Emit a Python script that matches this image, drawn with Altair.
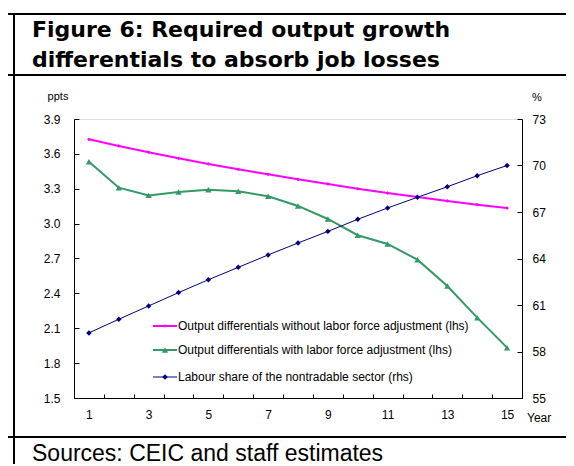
import altair as alt
import pandas as pd

years = list(range(1, 16))
s_without = [3.725, 3.668, 3.614, 3.562, 3.513, 3.467, 3.424, 3.381, 3.341, 3.300, 3.263, 3.229, 3.195, 3.163, 3.134]
s_with = [3.533, 3.309, 3.243, 3.272, 3.292, 3.278, 3.235, 3.152, 3.040, 2.900, 2.825, 2.690, 2.463, 2.191, 1.933]
labour_share = [59.2, 60.08, 60.94, 61.8, 62.63, 63.43, 64.23, 65.0, 65.75, 66.53, 67.26, 67.95, 68.63, 69.34, 70.0]
series_names = [
    "Output differentials without labor force adjustment (lhs)",
    "Output differentials with labor force adjustment (lhs)",
    "Labour share of the nontradable sector (rhs)",
]
left_ticks = [1.5, 1.8, 2.1, 2.4, 2.7, 3.0, 3.3, 3.6, 3.9]
right_ticks = [55, 58, 61, 64, 67, 70, 73]
title_lines = ["Figure 6: Required output growth", "differentials to absorb job losses"]
source_text = "Sources: CEIC and staff estimates"

FONT = "Liberation Sans"
TFONT = "DejaVu Sans"
colors = ["#FF00FF", "#339966", "#000080"]

W, H = 448, 279

df_lhs = pd.DataFrame({
    "year": years * 2,
    "v": s_without + s_with,
    "s": [series_names[0]] * 15 + [series_names[1]] * 15,
})
df3 = pd.DataFrame({"year": years, "v": labour_share})

xenc = alt.X(
    "year:O",
    scale=alt.Scale(paddingInner=0, paddingOuter=0),
    axis=alt.Axis(
        title=None, labelAngle=0, tickBand="extent",
        labelExpr="datum.value % 2 == 1 ? datum.label : ''",
        tickSize=alt.ExprRef(expr="-4"), labelPadding=15,
        domainColor="black", tickColor="black", labelColor="black",
        labelFont=FONT, labelFontSize=12, grid=False,
    ),
)
yleft = alt.Y(
    "v:Q",
    scale=alt.Scale(domain=[1.5, 3.9], nice=False),
    axis=alt.Axis(
        title=None, values=left_ticks, format=".1f", orient="left",
        tickSize=alt.ExprRef(expr="-5"), labelPadding=19,
        domainColor="black", tickColor="black", labelColor="black",
        labelFont=FONT, labelFontSize=12, grid=False,
    ),
)
yright = alt.Y(
    "v:Q",
    scale=alt.Scale(domain=[55, 73], nice=False),
    axis=alt.Axis(
        title=None, values=right_ticks, format="d", orient="right",
        tickSize=alt.ExprRef(expr="-5"), labelPadding=15,
        domainColor="black", tickColor="black", labelColor="black",
        labelFont=FONT, labelFontSize=12, grid=False,
    ),
)

cscale = alt.Scale(domain=series_names[:2], range=colors[:2])
sscale = alt.Scale(domain=series_names[:2], range=["diamond", "triangle-up"])
zscale = alt.Scale(domain=series_names[:2], range=[14, 40])

lhs_lines = alt.Chart(df_lhs).mark_line(strokeWidth=2).encode(
    x=xenc, y=yleft,
    color=alt.Color("s:N", scale=cscale, legend=None),
)
lhs_points = alt.Chart(df_lhs).mark_point(filled=True, opacity=1).encode(
    x=xenc, y=yleft,
    color=alt.Color("s:N", scale=cscale, legend=None),
    shape=alt.Shape("s:N", scale=sscale, legend=None),
    size=alt.Size("s:N", scale=zscale, legend=None),
)
left = alt.layer(lhs_lines, lhs_points)

l3 = alt.Chart(df3).mark_line(color=colors[2], strokeWidth=1, point=alt.OverlayMarkDef(shape="diamond", size=30, color=colors[2], filled=True)).encode(x=xenc, y=yright)

# Legend
leg_y = [207, 231, 258]
shapes = ["diamond", "triangle-up", "diamond"]
sizes = [14, 40, 30]
widths = [2, 2, 1]
leg_layers = []
for i, name in enumerate(series_names):
    ld = pd.DataFrame({"s": [name]})
    base = alt.Chart(ld)
    leg_layers.append(base.mark_rule(color=colors[i], strokeWidth=widths[i]).encode(
        x=alt.value(79), x2=alt.value(103), y=alt.value(leg_y[i])))
    leg_layers.append(base.mark_point(shape=shapes[i], size=sizes[i], color=colors[i], filled=True, opacity=1).encode(
        x=alt.value(91), y=alt.value(leg_y[i])))
    leg_layers.append(base.mark_text(align="left", baseline="middle", font=FONT, fontSize=12, color="black").encode(
        text="s:N", x=alt.value(104), y=alt.value(leg_y[i])))

# Frame lines & texts
fb = alt.Chart(pd.DataFrame({"k": [0]}))
frame = [
    fb.mark_rule(color="black", strokeWidth=2).encode(x=alt.value(-66), x2=alt.value(500), y=alt.value(-105)),
    fb.mark_rule(color="black", strokeWidth=2).encode(x=alt.value(-66), x2=alt.value(500), y=alt.value(-44)),
    fb.mark_rule(color="black", strokeWidth=2).encode(x=alt.value(-66), x2=alt.value(500), y=alt.value(318)),
    fb.mark_rule(color="black", strokeWidth=2).encode(x=alt.value(-60), y=alt.value(-106), y2=alt.value(350)),
]
texts = []
texts.append(alt.Chart(pd.DataFrame({"t": [title_lines[0]]})).mark_text(align="left", baseline="alphabetic", font=TFONT, fontSize=22, fontWeight="bold", color="black").encode(text="t:N", x=alt.value(-42), y=alt.value(-82)))
texts.append(alt.Chart(pd.DataFrame({"t": [title_lines[1]]})).mark_text(align="left", baseline="alphabetic", font=TFONT, fontSize=22, fontWeight="bold", color="black").encode(text="t:N", x=alt.value(-42), y=alt.value(-52)))
texts.append(alt.Chart(pd.DataFrame({"t": [source_text]})).mark_text(align="left", baseline="alphabetic", font=FONT, fontSize=23, color="black").encode(text="t:N", x=alt.value(-42), y=alt.value(341.5)))
texts.append(alt.Chart(pd.DataFrame({"t": ["ppts"]})).mark_text(align="center", baseline="middle", font=FONT, fontSize=11, color="black").encode(text="t:N", x=alt.value(-16), y=alt.value(-22)))
texts.append(alt.Chart(pd.DataFrame({"t": ["%"]})).mark_text(align="center", baseline="middle", font=FONT, fontSize=11, color="black").encode(text="t:N", x=alt.value(463), y=alt.value(-21)))
texts.append(alt.Chart(pd.DataFrame({"t": ["Year"]})).mark_text(align="left", baseline="middle", font=FONT, fontSize=12, color="black").encode(text="t:N", x=alt.value(453), y=alt.value(299)))

chart = alt.layer(
    left, l3, *leg_layers, *frame, *texts
).resolve_scale(y="independent", color="independent", shape="independent", size="independent").properties(
    width=W, height=H,
    autosize=alt.AutoSizeParams(type="none"),
    padding={"left": 66, "top": 111, "right": 44, "bottom": 66},
).configure_view(stroke=None).configure(background="white")

chart.save("out.html", embed_options={"renderer": "svg", "actions": False})
